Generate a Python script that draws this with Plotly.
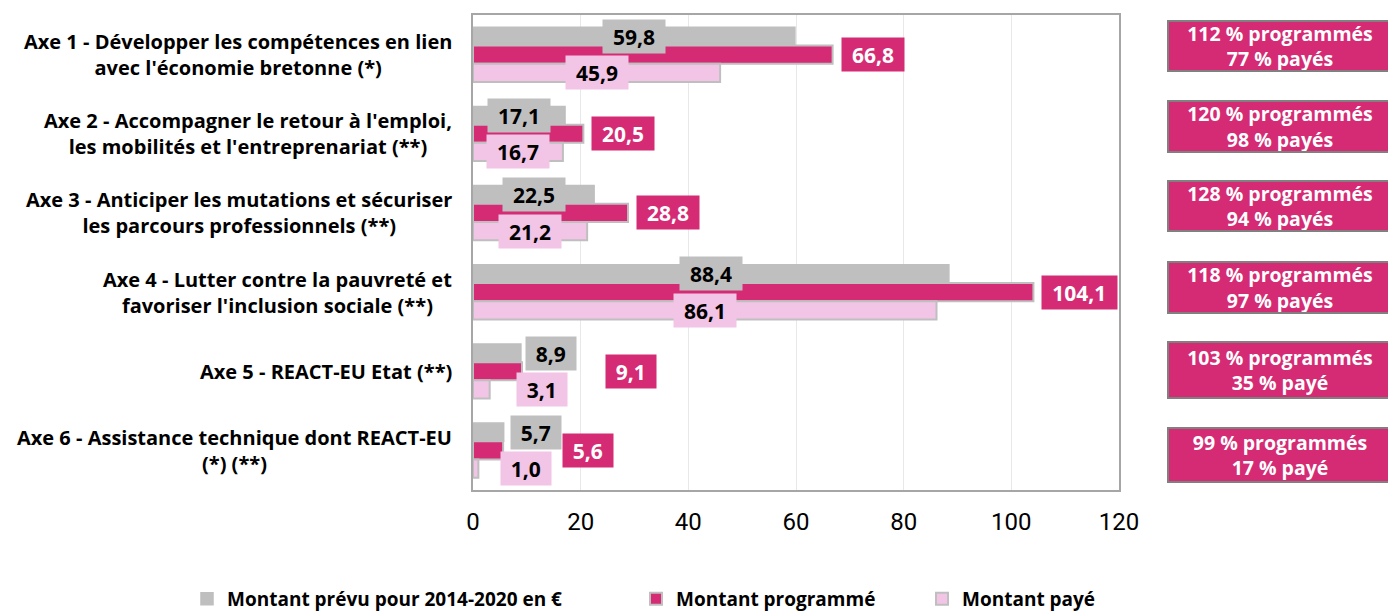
import plotly.graph_objects as go

# ---------------- data ----------------
categories = [
    "Axe 1 - Développer les compétences en lien<br>avec l'économie bretonne (*)",
    "Axe 2 - Accompagner le retour à l'emploi,<br>les mobilités et l'entreprenariat (**)",
    "Axe 3 - Anticiper les mutations et sécuriser<br>les parcours professionnels (**)",
    "Axe 4 - Lutter contre la pauvreté et<br>favoriser l'inclusion sociale (**)",
    "Axe 5 - REACT-EU Etat (**)",
    "Axe 6 - Assistance technique dont REACT-EU<br>(*) (**)",
]
prevu = [59.8, 17.1, 22.5, 88.4, 8.9, 5.7]
programme = [66.8, 20.5, 28.8, 104.1, 9.1, 5.6]
paye = [45.9, 16.7, 21.2, 86.1, 3.1, 1.0]
pct_programme = [112, 120, 128, 118, 103, 99]
pct_paye = [77, 98, 94, 97, 35, 17]
paye_word = ["payés", "payés", "payés", "payés", "payé", "payé"]
series_names = ["Montant prévu pour 2014-2020 en €", "Montant programmé", "Montant payé"]
x_ticks = [0, 20, 40, 60, 80, 100, 120]

# ---------------- style / layout ----------------
GRAY = "#BFBFBF"
MAGENTA = "#D42B74"
PINK = "#F2C4E6"
FONT = "Open Sans"
OFF = 8                      # page body margin of the browser
W, H = 1396 - OFF, 615 - OFF
L, T = 473 - OFF, 15 - OFF
plot_w = 1119 - 473
plot_h = 490 - 15
R = W - L - plot_w
B = H - T - plot_h
BARGAP = 0.31

def px_x(screen_x):          # screen pixel -> paper x
    return (screen_x - OFF - L) / plot_w

def px_y(screen_y):          # screen pixel -> paper y
    return (T + plot_h - (screen_y - OFF)) / plot_h

# label placement: None = centred in bar, number = pixel offset after bar end
gray_lbl_off = [None, None, None, None, 4, 6]
prog_lbl_off = [8, 8, 8, 8, 83, 59]
paye_lbl_off = [None, None, None, None, 26, 22]
bar_px = plot_h / 6 * (1 - BARGAP) / 3

def fmt(v):
    return f"{v:.1f}".replace(".", ",")

fig = go.Figure()
fig.add_trace(go.Bar(y=categories, x=prevu, orientation="h", name=series_names[0],
                     marker=dict(color=GRAY, line=dict(color=GRAY, width=1.5)),
                     legend="legend", hoverinfo="x"))
fig.add_trace(go.Bar(y=categories, x=programme, orientation="h", name=series_names[1],
                     marker=dict(color=MAGENTA, line=dict(color=GRAY, width=2)),
                     legend="legend2", hoverinfo="x"))
fig.add_trace(go.Bar(y=categories, x=paye, orientation="h", name=series_names[2],
                     marker=dict(color=PINK, line=dict(color=GRAY, width=2)),
                     legend="legend3", hoverinfo="x"))

annotations = []
# category labels
for c in categories:
    annotations.append(dict(
        xref="paper", yref="y", x=0, y=c, xanchor="right", xshift=-19,
        text=c, showarrow=False, align="center",
        font=dict(family=FONT, size=20, color="#000000", weight="bold")))

# data labels
for vals, offs, bg, fc, ysh in [
    (prevu, gray_lbl_off, GRAY, "#000000", bar_px),
    (programme, prog_lbl_off, MAGENTA, "#FFFFFF", 0),
    (paye, paye_lbl_off, PINK, "#000000", -bar_px),
]:
    for c, v, off in zip(categories, vals, offs):
        t = fmt(v)
        d = dict(xref="x", yref="y", y=c, yshift=ysh, text=t, showarrow=False,
                 bgcolor=bg, borderpad=3, width=12.5 * len(t) + 6, height=27,
                 font=dict(family=FONT, size=21, color=fc, weight="bold"))
        if off is None:
            d.update(x=v / 2, xanchor="center")
        else:
            d.update(x=v, xanchor="left", xshift=off)
        annotations.append(d)

# right-hand summary boxes
box_centers_px = [46, 126, 206, 287, 370, 455]
box_heights_px = [52, 53, 52, 53, 58, 56]
for p, q, wd, cy, bh in zip(pct_programme, pct_paye, paye_word, box_centers_px, box_heights_px):
    annotations.append(dict(
        xref="paper", yref="paper",
        x=px_x(1280), y=px_y(cy),
        xanchor="center", yanchor="middle",
        text=f"{p} % programmés<br>{q} % {wd}", showarrow=False, align="center",
        bgcolor=MAGENTA, bordercolor="#808080", borderwidth=2, borderpad=0,
        width=222, height=bh - 4,
        font=dict(family=FONT, size=19.5, color="#FFFFFF", weight="bold")))

legend_common = dict(orientation="h", yanchor="middle", xanchor="left",
                     y=px_y(599), itemwidth=30,
                     font=dict(family=FONT, size=19, color="#000000", weight="bold"),
                     bgcolor="rgba(0,0,0,0)")

fig.update_layout(
    width=W, height=H,
    margin=dict(l=L, r=R, t=T, b=B, autoexpand=False),
    paper_bgcolor="white", plot_bgcolor="white",
    barmode="group", bargap=BARGAP, bargroupgap=0,
    font=dict(family=FONT, color="#000000"),
    showlegend=True,
    legend=dict(x=px_x(187), **legend_common),
    legend2=dict(x=px_x(636), **legend_common),
    legend3=dict(x=px_x(922), **legend_common),
    annotations=annotations,
    xaxis=dict(range=[0, 120], tickvals=x_ticks, ticktext=[str(v) for v in x_ticks],
               showgrid=True, gridcolor="#E8E8E8", gridwidth=1,
               showline=True, linecolor="#A6A6A6", linewidth=2, mirror=True,
               zeroline=False, ticks="", ticklabelstandoff=9,
               tickfont=dict(family="Roboto", size=24, color="#000000")),
    yaxis=dict(type="category", categoryorder="array", categoryarray=categories,
               autorange="reversed", showticklabels=False,
               showline=True, linecolor="#A6A6A6", linewidth=2, mirror=True,
               showgrid=False, ticks=""),
)

fig.write_html("out.html")
